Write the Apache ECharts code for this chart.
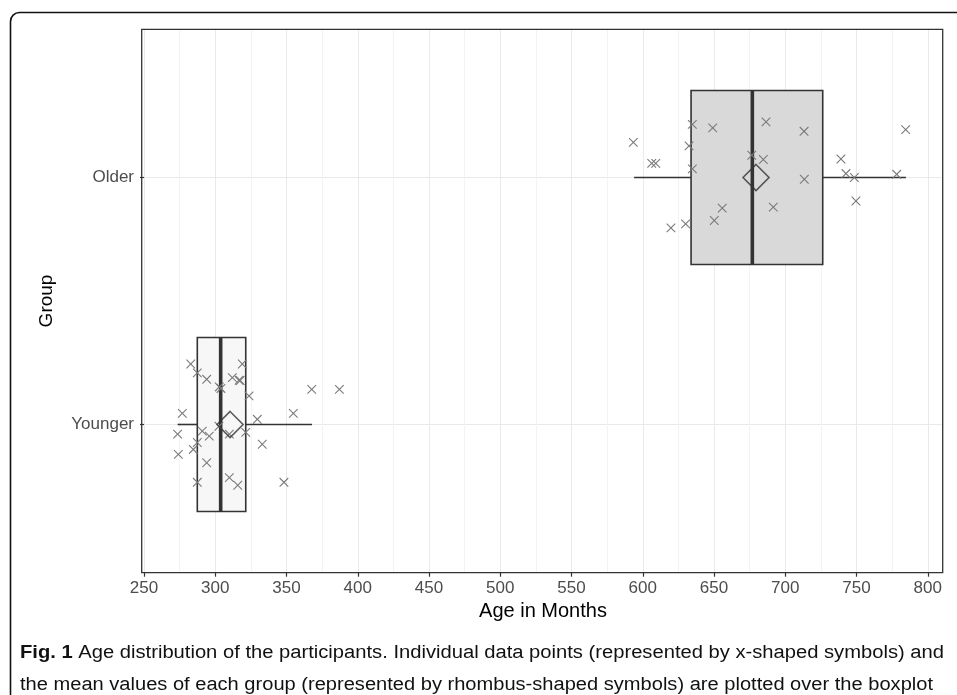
<!DOCTYPE html>
<html>
<head>
<meta charset="utf-8">
<script src="https://cdn.jsdelivr.net/npm/echarts@6/dist/echarts.min.js"></script>
<style>
html,body{margin:0;padding:0;background:#fff;}
#chart{width:957px;height:695px;}
</style>
</head>
<body>
<div id="chart"></div>
<script>
// ---------------- data ----------------
const groupNames = ['Younger', 'Older'];           // y positions 1, 2
const xTicks = [250, 300, 350, 400, 450, 500, 550, 600, 650, 700, 750, 800];
// box statistics: [lower whisker, Q1, median, Q3, upper whisker]
const youngerBox = [273.6, 287.4, 303.8, 321.4, 367.9];
const olderBox   = [593.9, 633.9, 676.9, 726.3, 784.7];
const groupMeans = [310.4, 679.5];
// individual ages and their jittered vertical position
const youngerAges = [282.8, 287.4, 294.0, 302.8, 304.0, 312.0, 316.7, 319.0, 323.7, 276.9,
                     329.5, 354.8, 367.7, 387.1, 273.6, 290.9, 295.8, 287.4, 284.6, 274.1,
                     294.0, 302.6, 309.9, 321.4, 333.0, 287.4, 309.9, 315.8, 348.2, 317.5];
const youngerJitter = [1.245, 1.209, 1.183, 1.152, 1.146, 1.190, 1.179, 1.245, 1.116, 1.045,
                       1.021, 1.045, 1.142, 1.142, 0.961, 0.973, 0.953, 0.927, 0.899, 0.879,
                       0.845, 0.993, 0.961, 0.968, 0.920, 0.766, 0.785, 0.754, 0.766, 1.178];
const olderAges = [593.4, 606.3, 609.1, 634.8, 632.5, 634.8, 649.1, 686.5, 713.2, 676.5,
                   684.6, 713.4, 739.1, 742.6, 748.5, 749.6, 778.2, 784.5, 655.8, 650.2,
                   630.1, 619.8, 691.6];
const olderJitter = [2.142, 2.057, 2.057, 2.215, 2.128, 2.035, 2.201, 2.225, 2.187, 2.090,
                     2.073, 1.993, 2.075, 2.016, 2.000, 1.905, 2.013, 2.194, 1.876, 1.826,
                     1.812, 1.796, 1.880];
const captionBold = 'Fig. 1';
const captionLine1 = ' Age distribution of the participants. Individual data points (represented by x-shaped symbols) and';
const captionLine2 = 'the mean values of each group (represented by rhombus-shaped symbols) are plotted over the boxplot';

// ---------------- build ----------------
const boxData = [
  [1].concat(youngerBox, ['#f7f7f7']),
  [2].concat(olderBox, ['#d9d9d9'])
];
const pointData = [];
youngerAges.forEach((a, i) => pointData.push([a, youngerJitter[i]]));
olderAges.forEach((a, i) => pointData.push([a, olderJitter[i]]));
const meanData = groupMeans.map((m, i) => [m, i + 1]);

const BOX_HALF = 0.352;
const INK = '#333333';

function renderBox(params, api) {
  const y = api.value(0);
  const lo = api.value(1), q1 = api.value(2), med = api.value(3), q3 = api.value(4), hi = api.value(5);
  const fill = boxData[params.dataIndex][6];
  const pTop = api.coord([q1, y + BOX_HALF]);
  const pBot = api.coord([q3, y - BOX_HALF]);
  const pLo = api.coord([lo, y]);
  const pQ1 = api.coord([q1, y]);
  const pQ3 = api.coord([q3, y]);
  const pHi = api.coord([hi, y]);
  const pMedT = api.coord([med, y + BOX_HALF]);
  const pMedB = api.coord([med, y - BOX_HALF]);
  return {
    type: 'group',
    children: [
      { type: 'line', shape: { x1: pLo[0], y1: pLo[1], x2: pQ1[0], y2: pQ1[1] }, style: { stroke: INK, lineWidth: 1.6 } },
      { type: 'line', shape: { x1: pQ3[0], y1: pQ3[1], x2: pHi[0], y2: pHi[1] }, style: { stroke: INK, lineWidth: 1.6 } },
      { type: 'rect', shape: { x: pTop[0], y: pTop[1], width: pBot[0] - pTop[0], height: pBot[1] - pTop[1] },
        style: { fill: fill, stroke: INK, lineWidth: 1.6 } },
      { type: 'line', shape: { x1: pMedT[0], y1: pMedT[1], x2: pMedB[0], y2: pMedB[1] }, style: { stroke: INK, lineWidth: 3.6 } }
    ]
  };
}

function renderCross(params, api) {
  const p = api.coord([api.value(0), api.value(1)]);
  const s = 4.3;
  return {
    type: 'group',
    children: [
      { type: 'line', shape: { x1: p[0] - s, y1: p[1] - s, x2: p[0] + s, y2: p[1] + s }, style: { stroke: '#7a7a7a', lineWidth: 1.1 } },
      { type: 'line', shape: { x1: p[0] - s, y1: p[1] + s, x2: p[0] + s, y2: p[1] - s }, style: { stroke: '#7a7a7a', lineWidth: 1.1 } }
    ]
  };
}

// caption fitting
const CAP_FONT = '"Liberation Sans", Arial, sans-serif';
const CAP_SIZE = 18;
const mctx = document.createElement('canvas').getContext('2d');
function measure(txt, bold) {
  mctx.font = (bold ? 'bold ' : '') + CAP_SIZE + 'px ' + CAP_FONT;
  return mctx.measureText(txt).width;
}
const w1 = measure(captionBold, true) + measure(captionLine1, false);
const w2 = measure(captionLine2, false);
const scale1 = 924 / w1;
const scale2 = 913 / w2;

const chart = echarts.init(document.getElementById('chart'), null, { renderer: 'canvas' });
const option = {
  animation: false,
  backgroundColor: '#ffffff',
  grid: { left: 144, top: 29.3, width: 798, height: 543.4, containLabel: false },
  xAxis: {
    type: 'value', min: 250, max: 810, interval: 50,
    name: 'Age in Months', nameLocation: 'middle', nameGap: 28,
    nameTextStyle: { color: '#000', fontSize: 20, fontFamily: '"Liberation Sans", Arial, sans-serif' },
    axisLine: { show: false },
    axisTick: { show: true, length: 4, lineStyle: { color: INK, width: 1.2 }, customValues: xTicks },
    axisLabel: { color: '#4d4d4d', fontSize: 17, margin: 7, fontFamily: '"Liberation Sans", Arial, sans-serif',
                 customValues: xTicks },
    splitLine: { show: true, lineStyle: { color: '#e9e9e9', width: 1 } },
    minorTick: { show: false, splitNumber: 2 },
    minorSplitLine: { show: true, lineStyle: { color: '#f3f3f3', width: 1 } }
  },
  yAxis: {
    type: 'value', min: 0.4, max: 2.6,
    name: 'Group', nameLocation: 'middle', nameGap: 88, nameRotate: 90,
    nameTextStyle: { color: '#000', fontSize: 19, fontFamily: '"Liberation Sans", Arial, sans-serif' },
    axisLine: { show: false },
    axisTick: { show: true, length: 4, lineStyle: { color: INK, width: 1.2 }, customValues: [1, 2] },
    axisLabel: { color: '#4d4d4d', fontSize: 17, margin: 10, fontFamily: '"Liberation Sans", Arial, sans-serif',
                 customValues: [1, 2], formatter: v => groupNames[Math.round(v) - 1] || '' },
    splitLine: { show: true, lineStyle: { color: '#e9e9e9', width: 1 } }
  },
  series: [
    { type: 'custom', renderItem: renderBox, data: boxData.map(d => d.slice(0, 6)), z: 2,
      encode: { x: [1, 2, 3, 4, 5], y: 0 } },
    { type: 'custom', renderItem: renderCross, data: pointData, z: 3, encode: { x: 0, y: 1 } },
    { type: 'scatter', data: meanData, symbol: 'diamond', symbolSize: [26, 26], z: 4,
      itemStyle: { color: 'rgba(0,0,0,0)', borderColor: INK, borderWidth: 1.6 } }
  ],
  graphic: [
    { type: 'rect', z: 100, silent: true,
      shape: { x: 141.7, y: 29.3, width: 801, height: 543.4 },
      style: { fill: 'none', stroke: INK, lineWidth: 1.3 } },
    { type: 'rect', z: 100, silent: true,
      shape: { x: 10.5, y: 12.5, width: 980, height: 720, r: 9 },
      style: { fill: 'none', stroke: '#111', lineWidth: 1.6 } },
    { type: 'text', z: 100, x: 20, y: 644, scaleX: scale1, scaleY: 1,
      style: { text: '{b|' + captionBold + '}' + captionLine1, fill: '#111', font: CAP_SIZE + 'px ' + CAP_FONT,
               rich: { b: { fontWeight: 'bold', fontSize: CAP_SIZE, fontFamily: CAP_FONT, fill: '#111' } } } },
    { type: 'text', z: 100, x: 20, y: 676, scaleX: scale2, scaleY: 1,
      style: { text: captionLine2, fill: '#111', font: CAP_SIZE + 'px ' + CAP_FONT } }
  ]
};
chart.setOption(option);
</script>
</body>
</html>
